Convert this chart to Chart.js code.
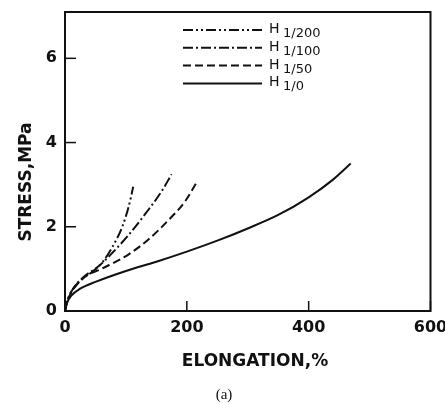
<!DOCTYPE html>
<html>
<head>
<meta charset="utf-8">
<script src="https://cdn.jsdelivr.net/npm/chart.js@4.4.0/dist/chart.umd.min.js"></script>
<style>
html,body{margin:0;padding:0;background:#fff;}
#wrap{position:relative;width:445px;height:404px;}
</style>
</head>
<body>
<div id="wrap"><canvas id="c" width="445" height="404"></canvas></div>
<script>
// ---- data ----
const xTicks = [0, 200, 400, 600];
const yTicks = [0, 2, 4, 6];
const seriesNames = ["1/200", "1/100", "1/50", "1/0"];
const xTitle = "ELONGATION,%";
const yTitle = "STRESS,MPa";
const caption = "(a)";

const h200X = [0, 3, 10, 30, 44, 61, 77, 94, 104, 112];
const h200Y = [0, 0.2, 0.45, 0.78, 0.92, 1.15, 1.5, 2.0, 2.45, 2.95];

const h100X = [0, 3, 10, 30, 55, 77, 104, 132, 159, 175];
const h100Y = [0, 0.2, 0.45, 0.8, 1.06, 1.37, 1.8, 2.31, 2.85, 3.25];

const h50X = [0, 3, 10, 30, 60, 104, 137, 170, 197, 216];
const h50Y = [0, 0.2, 0.43, 0.78, 1.0, 1.34, 1.7, 2.16, 2.6, 3.05];

const h0X = [0, 3, 10, 25, 50, 100, 150, 200, 250, 300, 350, 400, 440, 469];
const h0Y = [0, 0.18, 0.36, 0.53, 0.69, 0.95, 1.17, 1.41, 1.67, 1.96, 2.28, 2.7, 3.12, 3.5];

const dashes = [[10, 3, 2, 3, 2, 3], [10, 3, 2, 3], [8, 4], []];

function pts(xs, ys) { return xs.map((x, i) => ({x: x, y: ys[i]})); }

const allX = [h200X, h100X, h50X, h0X];
const allY = [h200Y, h100Y, h50Y, h0Y];

const FONT = "'DejaVu Sans', sans-serif";

const datasets = seriesNames.map((n, i) => ({
  label: "H " + n,
  data: pts(allX[i], allY[i]),
  borderColor: "#111",
  borderWidth: 2,
  borderDash: dashes[i],
  pointRadius: 0,
  fill: false,
  cubicInterpolationMode: "monotone"
}));

const framePlugin = {
  id: "frame",
  afterDatasetsDraw(chart) {
    const {ctx, chartArea: a, scales} = chart;
    ctx.save();
    ctx.strokeStyle = "#111";
    ctx.lineWidth = 2;
    ctx.setLineDash([]);
    ctx.strokeRect(a.left, a.top, a.right - a.left, a.bottom - a.top);
    // inward ticks
    ctx.lineWidth = 1.5;
    xTicks.forEach(v => {
      const px = scales.x.getPixelForValue(v);
      ctx.beginPath(); ctx.moveTo(px, a.bottom); ctx.lineTo(px, a.bottom - 10); ctx.stroke();
    });
    yTicks.forEach(v => {
      const py = scales.y.getPixelForValue(v);
      ctx.beginPath(); ctx.moveTo(a.left, py); ctx.lineTo(a.left + 11, py); ctx.stroke();
    });
    // legend
    chart.data.datasets.forEach((ds, i) => {
      const y = 30 + i * 17.8;
      ctx.lineWidth = 2;
      ctx.setLineDash(ds.borderDash);
      ctx.beginPath(); ctx.moveTo(183, y); ctx.lineTo(262, y); ctx.stroke();
      ctx.setLineDash([]);
      ctx.fillStyle = "#111";
      ctx.textBaseline = "alphabetic";
      ctx.textAlign = "left";
      ctx.font = "14px " + FONT;
      ctx.fillText("H", 269, y + 3);
      ctx.font = "13px " + FONT;
      ctx.fillText(seriesNames[i], 283, y + 7);
    });
    // axis titles
    ctx.fillStyle = "#111";
    ctx.font = "bold 17px " + FONT;
    ctx.textAlign = "center";
    ctx.textBaseline = "middle";
    ctx.fillText(xTitle, 255, 362);
    ctx.save();
    ctx.translate(27, 182);
    ctx.rotate(-Math.PI / 2);
    ctx.fillText(yTitle, 0, 0);
    ctx.restore();
    // caption
    ctx.font = "15px 'Liberation Serif', 'Times New Roman', serif";
    ctx.fillText(caption, 224, 395);
    ctx.restore();
  }
};

function noPad(s) { s.paddingLeft = 0; s.paddingRight = 0; s.paddingTop = 0; s.paddingBottom = 0; }

new Chart(document.getElementById("c"), {
  type: "line",
  data: {datasets: datasets},
  plugins: [framePlugin],
  options: {
    responsive: false,
    animation: false,
    layout: {padding: {top: 12, right: 14.5, left: 0, bottom: 0}},
    plugins: {legend: {display: false}, tooltip: {enabled: false}},
    scales: {
      x: {
        type: "linear", min: 0, max: 600,
        afterBuildTicks: s => { s.ticks = xTicks.map(v => ({value: v})); },
        afterFit: s => { s.height = 93; noPad(s); },
        grid: {display: false, drawTicks: false},
        border: {display: false},
        ticks: {color: "#111", padding: 7, maxRotation: 0, font: {family: FONT, size: 16, weight: "bold"}}
      },
      y: {
        type: "linear", min: 0, max: 7.1,
        afterBuildTicks: s => { s.ticks = yTicks.map(v => ({value: v})); },
        afterFit: s => { s.width = 65; noPad(s); },
        grid: {display: false, drawTicks: false},
        border: {display: false},
        ticks: {color: "#111", padding: 8, font: {family: FONT, size: 16, weight: "bold"}}
      }
    }
  }
});
</script>
</body>
</html>
